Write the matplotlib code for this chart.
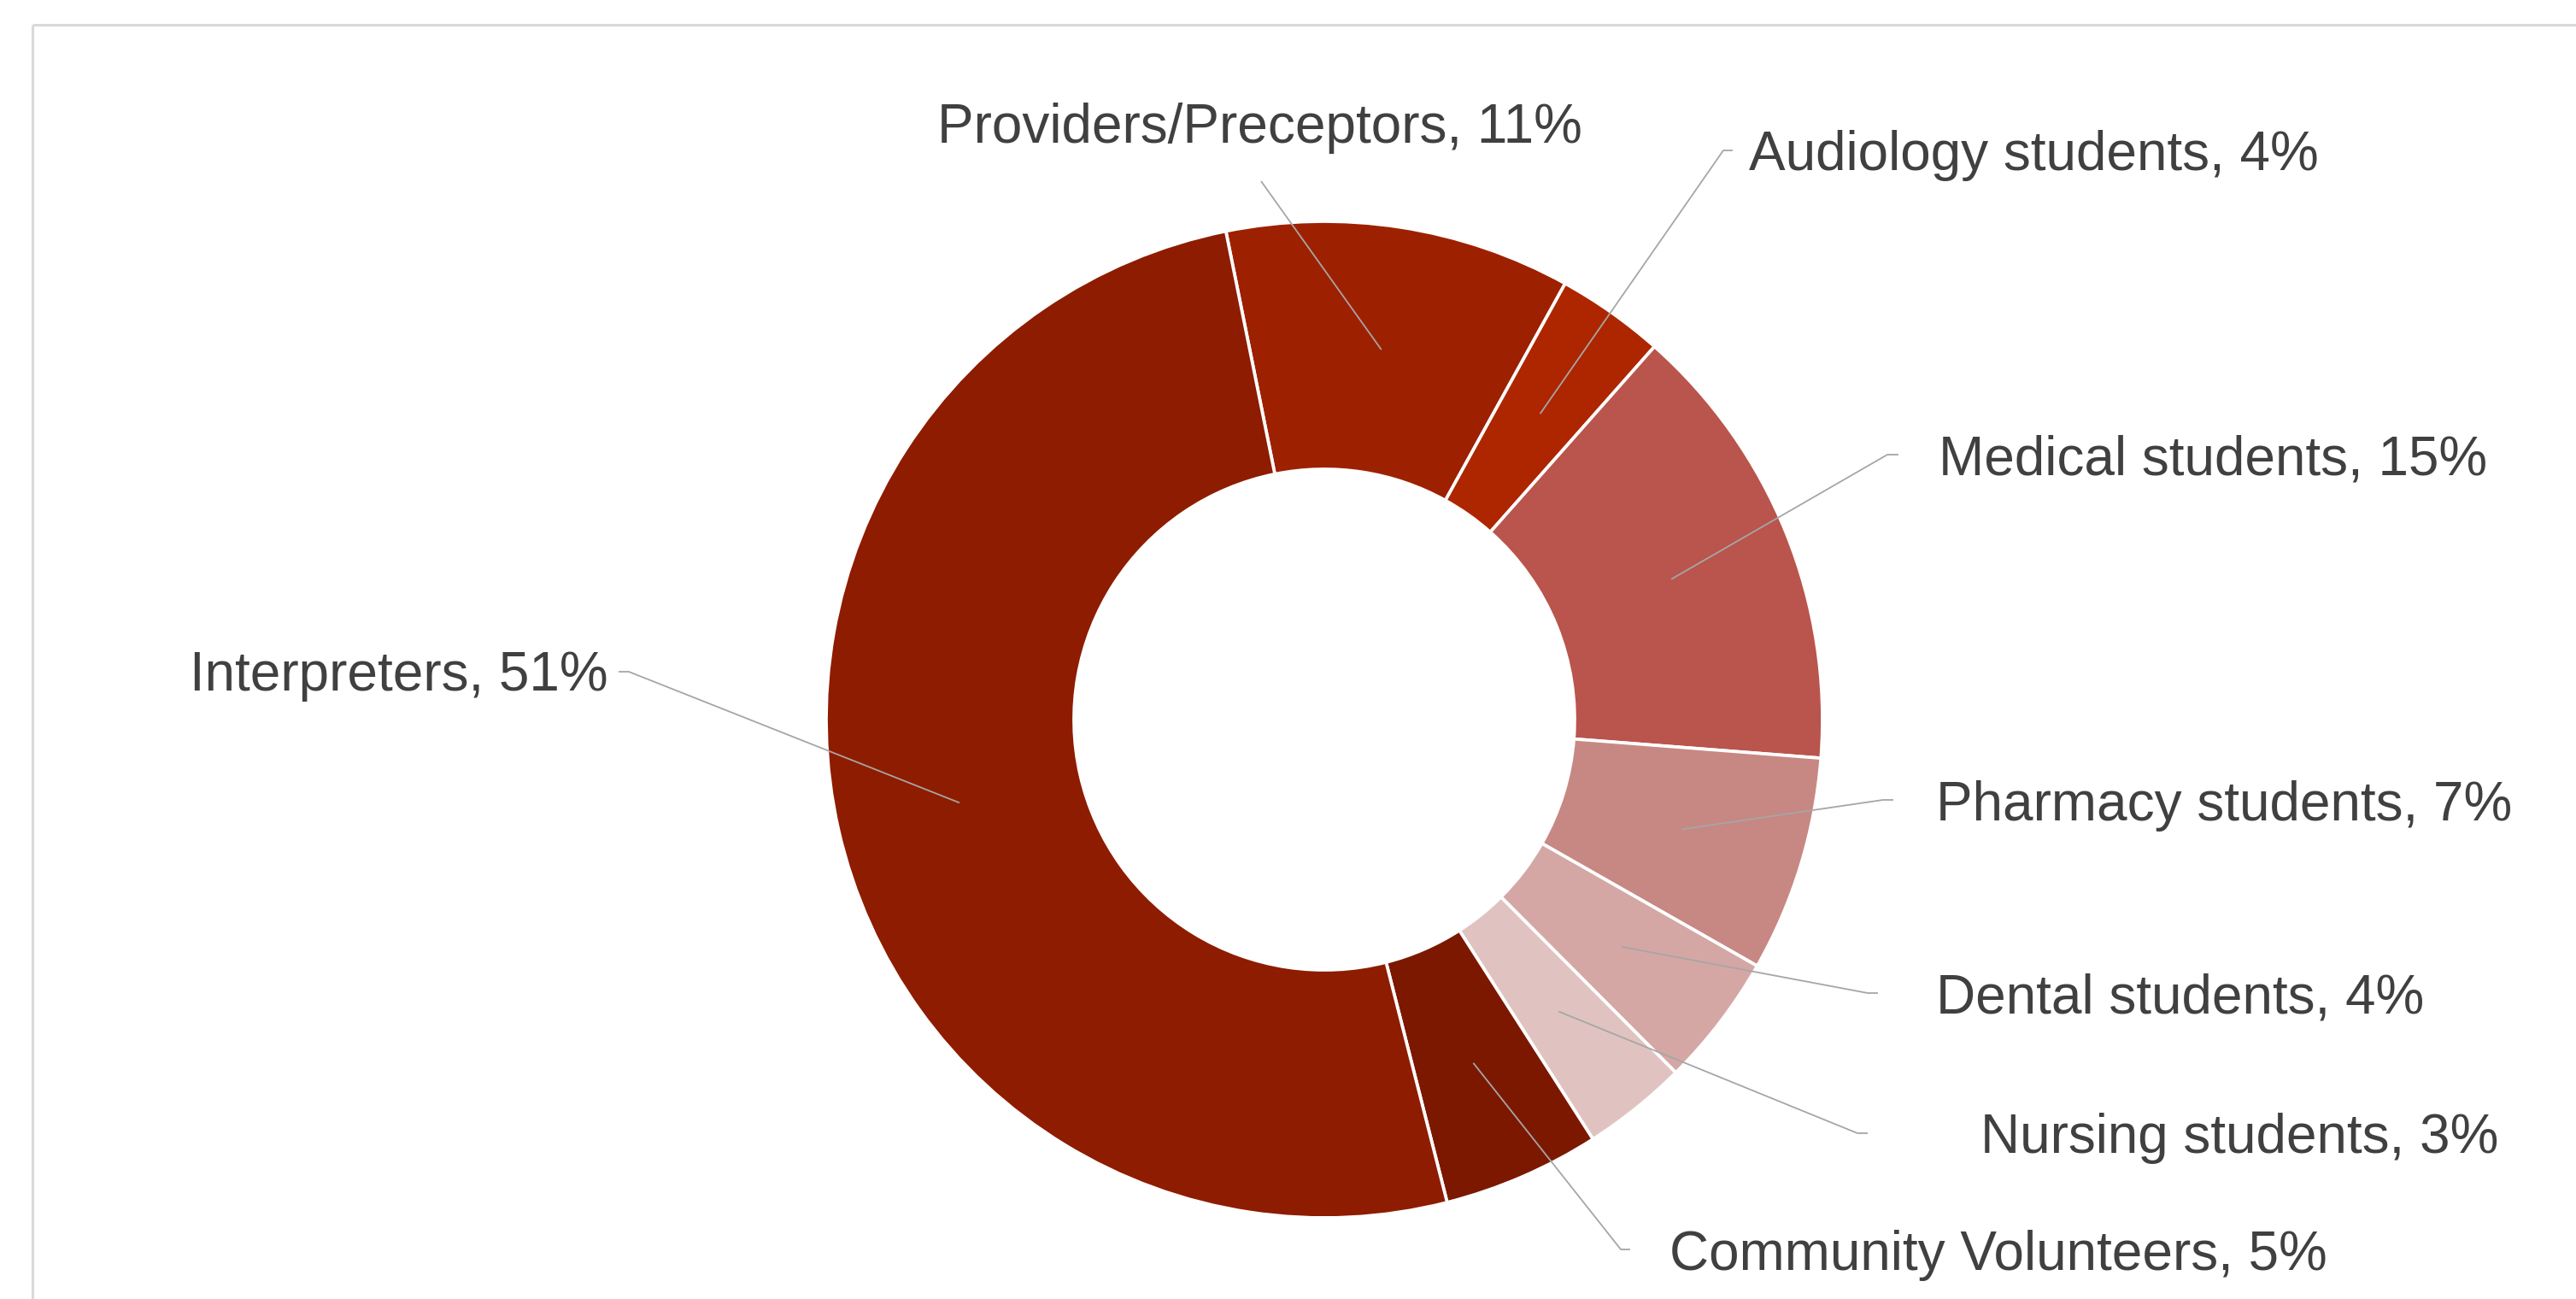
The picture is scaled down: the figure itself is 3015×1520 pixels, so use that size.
"""Donut chart: share of participants by group."""

import numpy as np
import matplotlib
matplotlib.use("Agg")
import matplotlib.pyplot as plt

# --- Data (clockwise from the first slice) ---
groups = [
    "Providers/Preceptors",
    "Audiology students",
    "Medical students",
    "Pharmacy students",
    "Dental students",
    "Nursing students",
    "Community Volunteers",
    "Interpreters",
]
shares = [11.2, 3.5, 14.7, 7.0, 4.3, 3.4, 5.1, 50.8]
pct_labels = [11, 4, 15, 7, 4, 3, 5, 51]
colors = ["#9D2100", "#AD2600", "#B9554C", "#C78883",
          "#D4A7A5", "#E0C3C0", "#7C1800", "#8E1C00"]

# --- Layout (pixel coordinates, y downward) ---
W, H = 3015, 1520
CENTER = (1550, 842)
R_OUT, R_IN = 583, 293
START_CW_FROM_TOP = -11.4   # degrees, clockwise from 12 o'clock

# label text: (x_left, baseline)
label_pos = [
    (1097, 167), (2047, 199), (2269, 556), (2266, 960),
    (2266, 1185), (2318, 1349), (1954, 1486), (222, 808),
]
# leader: (outer tick end, tick end next to diagonal)
leader_pts = [
    (None, (1476, 212)),
    ((2028, 176), (2017, 176)),
    ((2222, 532), (2209, 532)),
    ((2216, 936), (2204, 936)),
    ((2198, 1162), (2186, 1162)),
    ((2186, 1326), (2174, 1326)),
    ((1908, 1462), (1897, 1462)),
    ((724, 786), (736, 786)),
]

TEXT_COLOR = "#404040"
LEADER_COLOR = "#A6A6A6"

fig = plt.figure(figsize=(W / 100, H / 100), dpi=100)
ax = fig.add_axes([0, 0, 1, 1])

wedges, _ = ax.pie(
    shares, colors=colors, startangle=-90 + START_CW_FROM_TOP,
    counterclock=True, radius=R_OUT, center=CENTER, frame=True,
    wedgeprops=dict(width=R_OUT - R_IN, edgecolor="white", linewidth=2.7),
)

ax.set_xlim(0, W)
ax.set_ylim(H, 0)
ax.set_aspect("equal")
ax.axis("off")

for wedge, name, pct, (tx, ty), (p0, p1) in zip(
        wedges, groups, pct_labels, label_pos, leader_pts):
    ax.text(tx, ty, f"{name}, {pct}%", ha="left", va="baseline",
            fontsize=46, color=TEXT_COLOR, family="Liberation Sans")
    mid = np.deg2rad((wedge.theta1 + wedge.theta2) / 2)
    rad = wedge.r - wedge.width / 2
    ex = wedge.center[0] + rad * np.cos(mid)
    ey = wedge.center[1] + rad * np.sin(mid)
    xs, ys = [], []
    if p0 is not None:
        xs.append(p0[0]); ys.append(p0[1])
    xs += [p1[0], ex]
    ys += [p1[1], ey]
    ax.plot(xs, ys, color=LEADER_COLOR, linewidth=1.3, solid_capstyle="butt")

# chart-area border (only top and left edges visible in the crop)
ax.plot([38, W], [29, 29], color="#D9D9D9", linewidth=2.2, solid_capstyle="butt")
ax.plot([38, 38], [29, H], color="#D9D9D9", linewidth=2.2, solid_capstyle="butt")

fig.savefig("out.png", dpi=100, facecolor="white")
plt.close(fig)
